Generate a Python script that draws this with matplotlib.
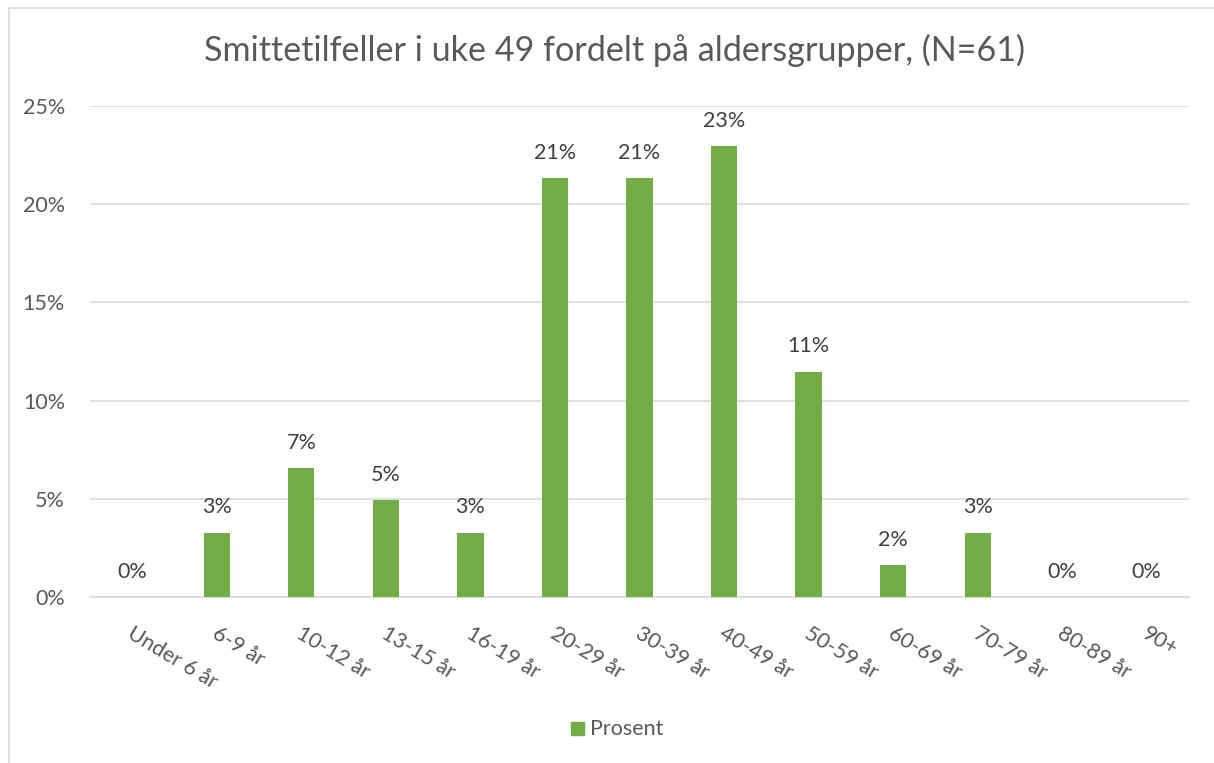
import matplotlib
matplotlib.use("Agg")
import matplotlib.pyplot as plt
from matplotlib.lines import Line2D
from matplotlib.ticker import FuncFormatter

categories = ["Under 6 år", "6-9 år", "10-12 år", "13-15 år", "16-19 år", "20-29 år",
              "30-39 år", "40-49 år", "50-59 år", "60-69 år", "70-79 år", "80-89 år", "90+"]
prosent = [0.0, 0.0328, 0.0656, 0.0492, 0.0328, 0.2131, 0.2131, 0.2295, 0.1148, 0.0164, 0.0328, 0.0, 0.0]
title = "Smittetilfeller i uke 49 fordelt på aldersgrupper, (N=61)"
series_name = "Prosent"
yticks = [0.0, 0.05, 0.10, 0.15, 0.20, 0.25]

plt.rcParams['font.family'] = ['Lato', 'DejaVu Sans']
green = "#70AD47"
grid = "#D9D9D9"
tick_col = "#595959"
lab_col = "#404040"

W, H = 1214, 763
fig = plt.figure(figsize=(W / 100, H / 100), dpi=100)
ax = fig.add_axes([90 / W, 1 - 597 / H, (1189 - 90) / W, (597 - 106) / H])

x = list(range(len(categories)))
ax.bar(x, prosent, width=0.31, color=green, zorder=3)
ax.set_xlim(-0.5, len(categories) - 0.5)
ax.set_ylim(0, 0.25)
ax.set_yticks(yticks)
ax.yaxis.set_major_formatter(FuncFormatter(lambda v, p: f"{v*100:.0f}%"))
ax.grid(axis='y', color=grid, linewidth=1.2, zorder=0)
for s in ['left', 'right', 'top']:
    ax.spines[s].set_visible(False)
ax.spines['bottom'].set_color(grid)
ax.spines['bottom'].set_linewidth(1.2)
ax.tick_params(axis='both', length=0, colors=tick_col, labelsize=15.5)
ax.tick_params(axis='y', pad=18)

ax.set_xticks(x)
ax.set_xticklabels([])
for xi, c in zip(x, categories):
    ax.annotate(c, xy=(xi, 0), xycoords=('data', 'axes fraction'),
                xytext=(-2, -25), textcoords='offset points',
                rotation=-31, rotation_mode='anchor', ha='left', va='center',
                fontsize=15.5, color=tick_col)

for xi, v in zip(x, prosent):
    ax.annotate(f"{v*100:.0f}%", xy=(xi, v), xytext=(0, 11), textcoords='offset points',
                ha='center', va='bottom', fontsize=15.5, color=lab_col)

fig.text(615 / W, 1 - 50 / H, title, ha='center', va='center', fontsize=24.6, color=tick_col)

# legend
fig.patches.append(plt.Rectangle((571 / W, 1 - 735 / H), 13 / W, 13 / H,
                                 transform=fig.transFigure, color=green))
fig.text(590 / W, 1 - 729 / H, series_name, ha='left', va='center', fontsize=15.5, color=tick_col)

# chart border
fig.add_artist(Line2D([8.5 / W, 8.5 / W], [0, 1 - 7.5 / H], transform=fig.transFigure, color=grid, linewidth=1.2))
fig.add_artist(Line2D([8.5 / W, 1], [1 - 7.5 / H, 1 - 7.5 / H], transform=fig.transFigure, color=grid, linewidth=1.2))

fig.savefig("out.png", dpi=100)
